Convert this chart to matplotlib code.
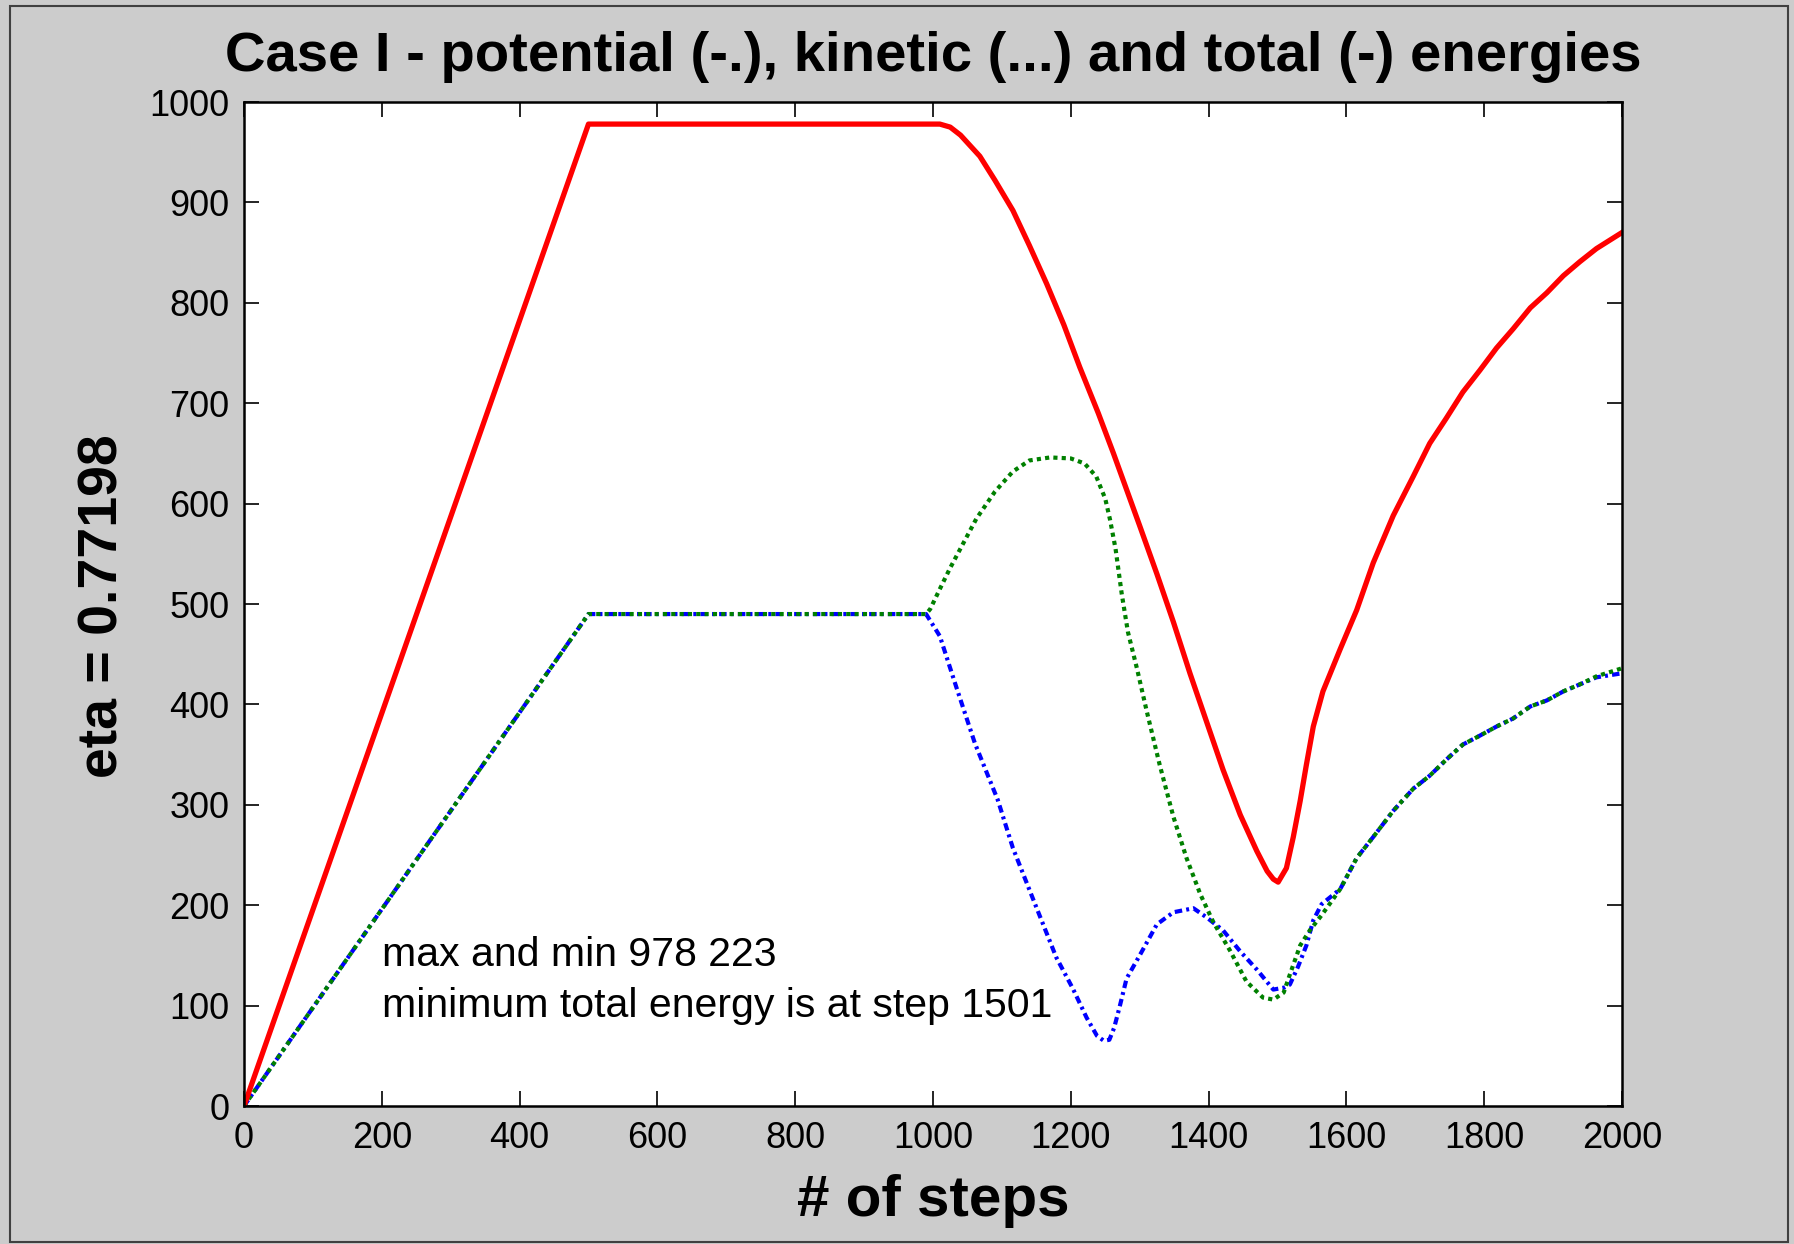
import matplotlib
matplotlib.use("Agg")
import matplotlib.pyplot as plt
from matplotlib.patches import Rectangle

plt.rcParams['font.family'] = ['Liberation Sans', 'DejaVu Sans']

# potential energy (dash-dot, blue)
pot_steps = [0, 500, 990, 1010, 1034, 1061, 1094, 1116, 1150, 1179, 1203, 1223, 1238,
             1248, 1256, 1263, 1271, 1281, 1300, 1325, 1349, 1378, 1397, 1421, 1446, 1470,
             1494, 1510, 1518, 1530, 1542, 1552, 1564, 1591, 1615, 1639, 1668, 1697,
             1721, 1745, 1769, 1794, 1818, 1842, 1867, 1891, 1915, 1939, 1963, 2000]
pot_vals = [0, 490, 490, 468, 417, 361, 305, 257, 198, 148, 117, 88, 70,
            65, 66, 78, 99, 127, 150, 181, 193, 197, 188, 175, 154, 136,
            116, 118, 121, 139, 160, 185, 201, 216, 247, 268, 294, 316,
            329, 345, 360, 369, 378, 386, 398, 404, 413, 420, 427, 431]

# kinetic energy (dotted, green)
kin_steps = [0, 500, 990, 996, 1010, 1025, 1063, 1090, 1116, 1140, 1170, 1200, 1220,
             1237, 1250, 1257, 1265, 1274, 1283, 1296, 1310, 1329, 1349, 1368, 1388,
             1407, 1431, 1455, 1479, 1494, 1509, 1518, 1533, 1547, 1564, 1591, 1615,
             1639, 1668, 1697, 1721, 1745, 1769, 1794, 1818, 1842, 1867, 1891, 1915,
             1939, 1963, 2000]
kin_vals = [0, 490, 490, 495, 515, 536, 585, 612, 632, 643, 646, 645, 640,
            627, 605, 584, 555, 510, 472, 436, 394, 340, 288, 247, 211,
            183, 155, 124, 108, 106, 113, 131, 160, 175, 190, 216, 247,
            268, 294, 316, 329, 345, 360, 369, 378, 386, 398, 404, 413,
            420, 428, 436]

# total energy (solid, red)
tot_steps = [0, 500, 1010, 1025, 1040, 1068, 1090, 1116, 1140, 1165, 1190, 1213, 1240,
             1262, 1300, 1325, 1349, 1373, 1397, 1421, 1446, 1470, 1485, 1494, 1501,
             1513, 1523, 1533, 1542, 1552, 1566, 1591, 1615, 1639, 1668, 1697, 1721,
             1745, 1769, 1794, 1818, 1842, 1867, 1891, 1915, 1939, 1963, 2000]
tot_vals = [0, 978, 978, 975, 967, 946, 922, 892, 857, 819, 778, 736, 690,
            650, 578, 530, 482, 431, 383, 335, 290, 254, 234, 226, 223,
            237, 268, 304, 340, 378, 413, 455, 494, 541, 588, 627, 660,
            685, 711, 733, 755, 774, 795, 810, 827, 841, 854, 870]

x_ticks = [0, 200, 400, 600, 800, 1000, 1200, 1400, 1600, 1800, 2000]
y_ticks = [0, 100, 200, 300, 400, 500, 600, 700, 800, 900, 1000]

fig = plt.figure(figsize=(17.94, 12.44), dpi=100, facecolor='#cccccc')
ax = fig.add_axes([0.1360, 0.1109, 0.7681, 0.8071])
ax.set_facecolor('white')

ax.plot(pot_steps, pot_vals, color='#0000ff', lw=3.0, dashes=(1.8, 1.0, 0.7, 1.0))
ax.plot(kin_steps, kin_vals, color='#008000', lw=3.0, dashes=(1.0, 1.0))
ax.plot(tot_steps, tot_vals, color='#ff0000', lw=3.8, solid_joinstyle='round')

ax.set_xlim(0, 2000)
ax.set_ylim(0, 1000)
ax.set_xticks(x_ticks)
ax.set_yticks(y_ticks)
ax.tick_params(direction='in', length=10.8, width=1.2, labelsize=26,
               top=True, right=True, pad=10.5)
for sp in ax.spines.values():
    sp.set_linewidth(1.8)

ax.text(200, 150, 'max and min 978 223', fontsize=29.5, va='center', ha='left')
ax.text(200, 100, 'minimum total energy is at step 1501', fontsize=29.5,
        va='center', ha='left')

ax.set_xlabel('# of steps', fontsize=42, fontweight='bold', va='top')
ax.xaxis.set_label_coords(0.5, -0.068)
ax.set_ylabel('eta = 0.77198', fontsize=40, fontweight='bold', va='center')
ax.yaxis.set_label_coords(-0.102, 0.498)

fig.text(933 / 1794, 1 - 71 / 1244,
         'Case I - potential (-.), kinetic (...) and total (-) energies',
         fontsize=40.5, fontweight='bold', ha='center', va='baseline')

# window frame
fig.patches.append(Rectangle((10 / 1794, 2 / 1244), 1778 / 1794, 1236 / 1244,
                             transform=fig.transFigure, fill=False,
                             edgecolor='#404040', lw=1.5))

fig.savefig('out.png', dpi=100, facecolor=fig.get_facecolor())
